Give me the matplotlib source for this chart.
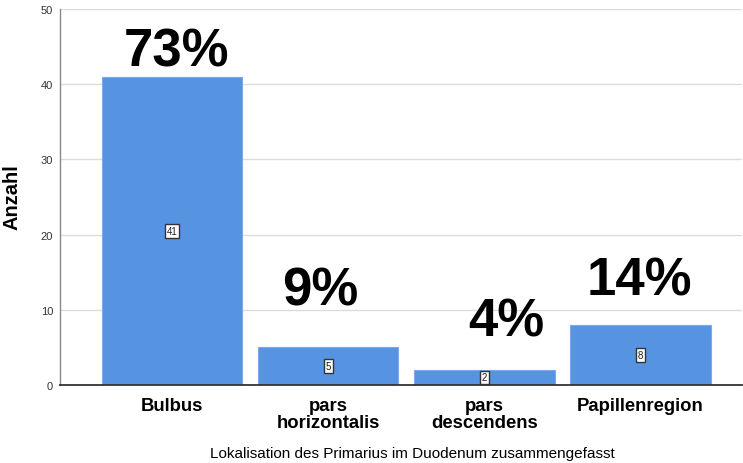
import matplotlib
matplotlib.use("Agg")
import matplotlib.pyplot as plt

categories = ["Bulbus", "pars\nhorizontalis", "pars\ndescendens", "Papillenregion"]
counts = [41, 5, 2, 8]
percent_labels = ["73%", "9%", "4%", "14%"]
y_ticks = [0, 10, 20, 30, 40, 50]

# positions of the big percentage annotations (data coords)
pct_x = [0.03, 0.95, 2.14, 2.99]
pct_y = [44.3, 12.6, 8.4, 13.9]

plt.rcParams['font.family'] = ['Liberation Sans', 'DejaVu Sans']

fig = plt.figure(figsize=(7.43, 4.64), dpi=100)
ax = fig.add_axes([60/743, 1 - 386/464, (742-60)/743, (386-10)/464])

x = list(range(len(categories)))
bars = ax.bar(x, counts, width=0.9, color="#5694e2", edgecolor="#7aaaea", linewidth=0.8, zorder=2)

ax.set_xlim(-0.717, 3.65)
ax.set_ylim(0, 50)
ax.set_yticks(y_ticks)
ax.set_yticklabels([str(t) for t in y_ticks], fontsize=8, color="#333333")
ax.tick_params(axis='y', length=0, pad=5)
ax.set_xticks(x)
ax.set_xticklabels(categories, fontsize=13.3, fontweight='bold', linespacing=0.95)
ax.tick_params(axis='x', length=0, pad=9)

ax.yaxis.grid(True, color="#dcdcdc", linewidth=1, zorder=0)
ax.set_axisbelow(True)
for s in ['top', 'right']:
    ax.spines[s].set_visible(False)
ax.spines['left'].set_color("#888888")
ax.spines['left'].set_linewidth(1)
ax.spines['bottom'].set_color("#333333")
ax.spines['bottom'].set_linewidth(1.3)
ax.spines['bottom'].set_zorder(3)

for xi, c in zip(x, counts):
    ax.text(xi, c / 2, str(c), ha='center', va='center', fontsize=7, color="#222222",
            bbox=dict(boxstyle='square,pad=0.2', facecolor='white', edgecolor='#333333', linewidth=1),
            zorder=4)

for px, py, lab in zip(pct_x, pct_y, percent_labels):
    ax.text(px, py, lab, ha='center', va='center', fontsize=38, fontweight='bold', color='black', zorder=5)

ax.set_ylabel("Anzahl", fontsize=14.5, fontweight='bold')
ax.yaxis.set_label_coords(-0.057, 0.501)
ax.set_xlabel("Lokalisation des Primarius im Duodenum zusammengefasst", fontsize=11)
ax.xaxis.set_label_coords(0.517, -0.162)

fig.savefig("out.png", dpi=100)
